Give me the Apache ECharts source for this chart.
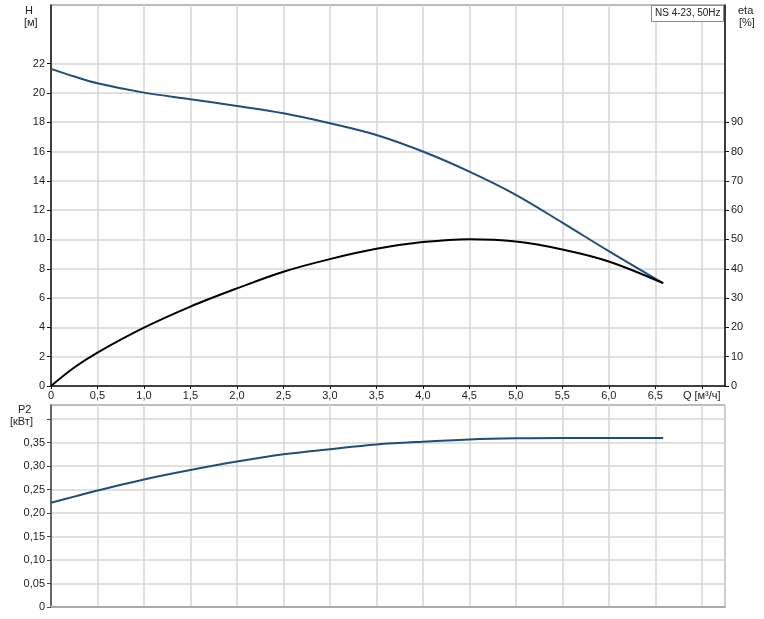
<!DOCTYPE html>
<html><head><meta charset="utf-8">
<script src="https://cdn.jsdelivr.net/npm/echarts@6/dist/echarts.min.js"></script>
<style>html,body{margin:0;padding:0;background:#fff}#c{width:764px;height:619px}</style>
</head><body><div id="c"></div>
<script>
const flowQ   = [0, 0.25, 0.5, 1.0, 1.5, 2.0, 2.5, 3.0, 3.5, 4.0, 4.5, 5.0, 5.5, 6.0, 6.585];
const headH   = [21.64, 21.12, 20.66, 20.02, 19.57, 19.11, 18.61, 17.93, 17.13, 16.0, 14.63, 13.05, 11.15, 9.2, 7.01];
const effEta  = [0, 6.3, 11.4, 19.9, 27.1, 33.3, 39.0, 43.3, 46.8, 49.1, 50.1, 49.3, 46.6, 42.5, 35.1];
const powerP2 = [0.222, 0.235, 0.248, 0.2715, 0.2915, 0.3095, 0.325, 0.336, 0.346, 0.352, 0.3565, 0.359, 0.360, 0.360, 0.360];
const qTicks   = [0, 0.5, 1.0, 1.5, 2.0, 2.5, 3.0, 3.5, 4.0, 4.5, 5.0, 5.5, 6.0, 6.5, 7.0];
const hTicks   = [0, 2, 4, 6, 8, 10, 12, 14, 16, 18, 20, 22];
const etaTicks = [0, 10, 20, 30, 40, 50, 60, 70, 80, 90];
const p2Ticks  = [0, 0.05, 0.10, 0.15, 0.20, 0.25, 0.30, 0.35, 0.40];
const p2Labels = [0, 0.05, 0.10, 0.15, 0.20, 0.25, 0.30, 0.35];
const qUnitLabel = 'Q [м³/ч]';
const titleText = 'NS 4-23, 50Hz';

const FONT = 'Liberation Sans, Arial, sans-serif';
const txt = {color: '#222', fontSize: 11, fontFamily: FONT};
const gridLine = {show: true, lineStyle: {color: '#d6d6d6', width: 1.5}};
const pair = (ys) => flowQ.map((q, i) => [q, ys[i]]);

const chart = echarts.init(document.getElementById('c'), null, {renderer: 'canvas'});
chart.setOption({
  animation: false,
  backgroundColor: '#fff',
  grid: [
    {left: 51, right: 39, top: 5, height: 381, show: true, borderColor: '#777', borderWidth: 1},
    {left: 51, right: 39, top: 405, height: 202, show: true, borderColor: '#777', borderWidth: 1}
  ],
  xAxis: [
    {type: 'value', gridIndex: 0, min: 0, max: 7.25, interval: 0.5,
     axisLine: {show: true, onZero: false, lineStyle: {color: '#111', width: 1.5}},
     axisTick: {show: true, customValues: qTicks, length: 3, lineStyle: {color: '#111'}},
     axisLabel: Object.assign({customValues: qTicks, margin: 4,
       formatter: v => v === 7 ? qUnitLabel : (v === 0 ? '0' : v.toFixed(1).replace('.', ','))}, txt),
     splitLine: gridLine},
    {type: 'value', gridIndex: 1, min: 0, max: 7.25, interval: 0.5,
     axisLine: {show: true, onZero: false, lineStyle: {color: '#aaa', width: 2}},
     axisTick: {show: false}, axisLabel: {show: false},
     splitLine: gridLine}
  ],
  yAxis: [
    {type: 'value', gridIndex: 0, min: 0, max: 26, interval: 2,
     axisLine: {show: true, lineStyle: {color: '#111', width: 1.5}},
     axisTick: {show: true, customValues: hTicks, length: 4, lineStyle: {color: '#111'}},
     axisLabel: Object.assign({customValues: hTicks, margin: 6}, txt),
     splitLine: gridLine},
    {type: 'value', gridIndex: 0, position: 'right', min: 0, max: 130, interval: 10,
     axisLine: {show: true, lineStyle: {color: '#111', width: 1.5}},
     axisTick: {show: true, customValues: etaTicks, length: 4, lineStyle: {color: '#111'}},
     axisLabel: Object.assign({customValues: etaTicks, margin: 6}, txt),
     splitLine: {show: false}},
    {type: 'value', gridIndex: 1, min: 0, max: 0.43, interval: 0.05,
     axisLine: {show: true, lineStyle: {color: '#444', width: 1.5}},
     axisTick: {show: true, customValues: p2Ticks, length: 4, lineStyle: {color: '#444'}},
     axisLabel: Object.assign({customValues: p2Labels, margin: 6,
       formatter: v => v === 0 ? '0' : v.toFixed(2).replace('.', ',')}, txt),
     splitLine: gridLine}
  ],
  series: [
    {name: 'H', type: 'line', xAxisIndex: 0, yAxisIndex: 0, data: pair(headH), smooth: 0.35,
     showSymbol: false, lineStyle: {color: '#1f4e7c', width: 2}, z: 3},
    {name: 'eta', type: 'line', xAxisIndex: 0, yAxisIndex: 1, data: pair(effEta), smooth: 0.35,
     showSymbol: false, lineStyle: {color: '#000', width: 2}, z: 3},
    {name: 'P2', type: 'line', xAxisIndex: 1, yAxisIndex: 2, data: pair(powerP2), smooth: 0.35,
     showSymbol: false, lineStyle: {color: '#1f4e7c', width: 2}, z: 3}
  ],
  graphic: [
    {type: 'text', left: 25, top: 5, style: {text: 'H', fill: '#222', font: '11px ' + FONT}},
    {type: 'text', left: 24, top: 17, style: {text: '[м]', fill: '#222', font: '11px ' + FONT}},
    {type: 'text', left: 738, top: 5, style: {text: 'eta', fill: '#222', font: '11px ' + FONT}},
    {type: 'text', left: 739, top: 17, style: {text: '[%]', fill: '#222', font: '11px ' + FONT}},
    {type: 'text', left: 18, top: 404, style: {text: 'P2', fill: '#222', font: '11px ' + FONT}},
    {type: 'text', left: 10, top: 416, style: {text: '[кВт]', fill: '#222', font: '11px ' + FONT}},
    {type: 'rect', left: 651, top: 5, shape: {width: 72, height: 16},
     style: {fill: '#fff', stroke: '#888', lineWidth: 1}, z: 10},
    {type: 'text', left: 655, top: 8, z: 11, style: {text: titleText, fill: '#222', font: '10px ' + FONT}}
  ]
});
</script></body></html>
